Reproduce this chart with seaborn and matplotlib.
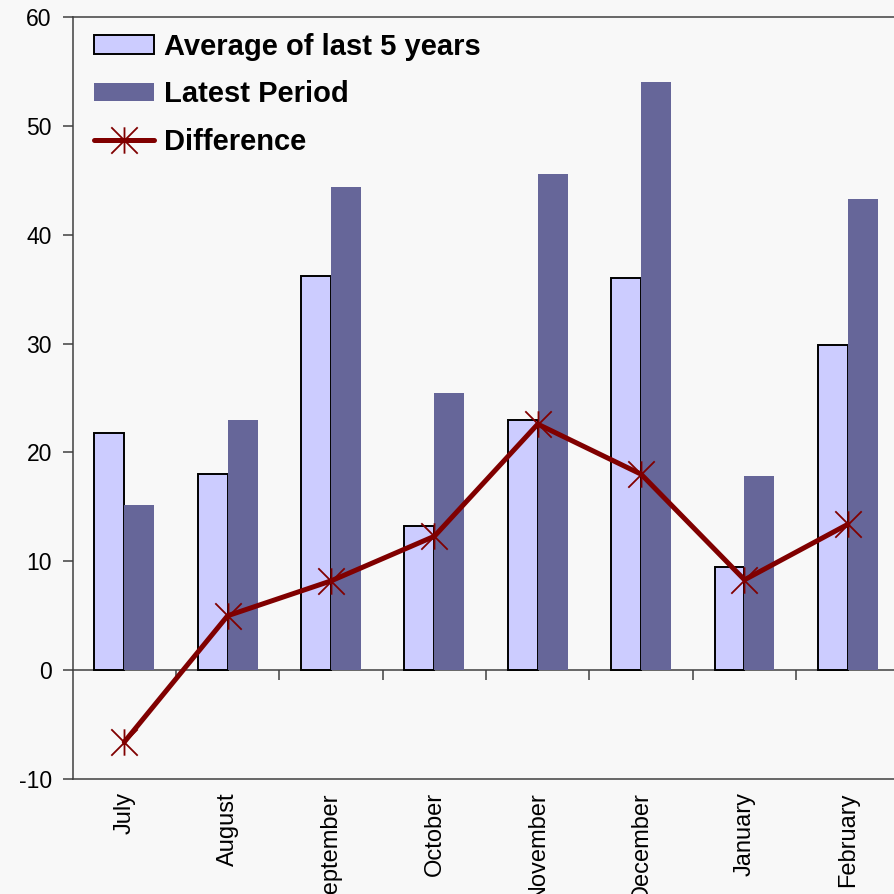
import numpy as np
import pandas as pd
import matplotlib
matplotlib.use("Agg")
import matplotlib.pyplot as plt
from matplotlib.path import Path
from matplotlib.patches import Patch
from matplotlib.lines import Line2D
import seaborn as sns

# Monthly values
months = ["July", "August", "September", "October", "November", "December", "January", "February"]
avg_last_5 = [21.8, 18.0, 36.2, 13.2, 23.0, 36.0, 9.5, 29.9]
latest_period = [15.2, 23.0, 44.4, 25.5, 45.6, 54.0, 17.8, 43.3]
difference = [-6.6, 5.0, 8.2, 12.3, 22.6, 18.0, 8.3, 13.4]

series_names = ["Average of last 5 years", "Latest Period"]
line_name = "Difference"
y_ticks = [-10, 0, 10, 20, 30, 40, 50, 60]

BG = "#F8F8F8"
AVG_COLOR = "#CCCCFF"
LATEST_COLOR = "#666699"
LINE_COLOR = "#800000"
AXIS_COLOR = "#404040"

sns.set_theme(style="ticks")
plt.rcParams["font.family"] = ["Liberation Sans", "DejaVu Sans"]
plt.rcParams["axes.unicode_minus"] = False
plt.rcParams["text.color"] = "black"
plt.rcParams["xtick.labelcolor"] = "black"
plt.rcParams["ytick.labelcolor"] = "black"

df = pd.DataFrame({
    "Month": months * 2,
    "Value": avg_last_5 + latest_period,
    "Series": [series_names[0]] * len(months) + [series_names[1]] * len(months),
})

fig = plt.figure(figsize=(8.94, 8.94), dpi=100, facecolor=BG)
ax = fig.add_axes([0.0812, 0.1286, 0.925, 0.8524])
ax.set_facecolor(BG)

sns.barplot(data=df, x="Month", y="Value", hue="Series", order=months,
            hue_order=series_names, palette=[AVG_COLOR, LATEST_COLOR],
            width=0.58, gap=0, saturation=1, linewidth=0, legend=False, ax=ax)

# outline on the five-year average bars only
for bar in ax.containers[0]:
    bar.set_edgecolor("black")
    bar.set_linewidth(1.4)

# asterisk-like marker: an X crossed by a vertical stroke
asterisk = Path([(-1, -1), (1, 1), (-1, 1), (1, -1), (0, -1), (0, 1)],
                [Path.MOVETO, Path.LINETO] * 3)
positions = np.arange(len(months))
line_style = dict(color=LINE_COLOR, linewidth=3.6, marker=asterisk, markersize=19,
                  markeredgewidth=1.3, markeredgecolor=LINE_COLOR)
sns.lineplot(x=positions, y=difference, sort=False, legend=False, ax=ax, **line_style)

ax.set_xlim(-0.5, len(months) - 0.5)
ax.set_ylim(y_ticks[0], y_ticks[-1])
ax.set_yticks(y_ticks)
ax.set_xticks(positions)
ax.set_xticklabels(months, rotation=90, fontsize=17, color="black")
ax.set_xlabel("")
ax.set_ylabel("")
ax.tick_params(axis="x", length=0, pad=9.5)
ax.tick_params(axis="y", length=7, width=1.1, pad=8, labelsize=16.5,
               direction="out", color=AXIS_COLOR, labelcolor="black")

for side in ["left", "bottom", "top", "right"]:
    ax.spines[side].set_visible(True)
    ax.spines[side].set_color(AXIS_COLOR)
    ax.spines[side].set_linewidth(1.1)

# category axis along the zero line, with ticks between months
zero_frac = (0 - y_ticks[0]) / (y_ticks[-1] - y_ticks[0])
zero_axis = ax.secondary_xaxis(zero_frac)
zero_axis.set_xticks(positions[:-1] + 0.5)
zero_axis.tick_params(axis="x", direction="out", length=7, width=1.1,
                      color=AXIS_COLOR, labelbottom=False, labeltop=False)
zero_axis.spines["bottom"].set_color(AXIS_COLOR)
zero_axis.spines["bottom"].set_linewidth(1.1)

handles = [
    Patch(facecolor=AVG_COLOR, edgecolor="black", linewidth=1.4),
    Patch(facecolor=LATEST_COLOR, edgecolor="none"),
    Line2D([], [], **line_style),
]
leg = ax.legend(handles, series_names + [line_name],
                loc="upper left", bbox_to_anchor=(94 / 894, 1 - 33 / 894),
                bbox_transform=fig.transFigure, frameon=False,
                prop={"weight": "bold", "size": 21},
                handlelength=2.05, handleheight=0.6, handletextpad=0.35,
                labelspacing=0.66, borderpad=0, borderaxespad=0)
for text in leg.get_texts():
    text.set_color("black")

fig.savefig("out.png", dpi=100, facecolor=BG)
